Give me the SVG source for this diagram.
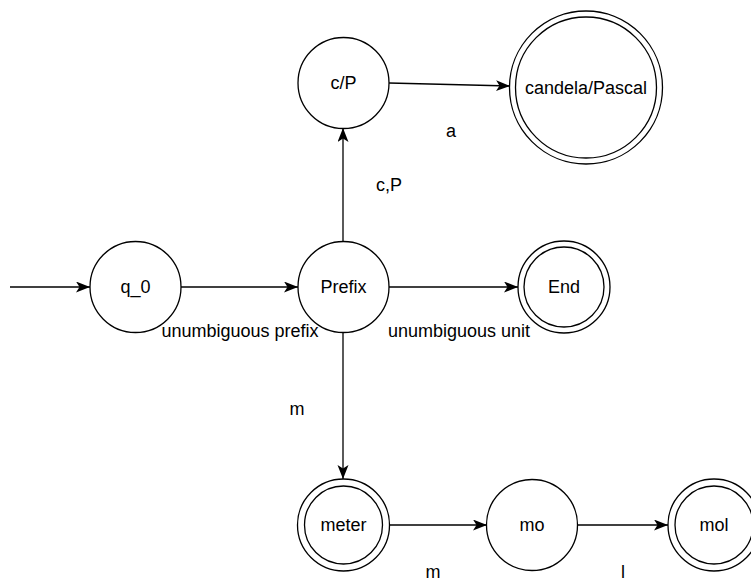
<svg xmlns="http://www.w3.org/2000/svg" width="751" height="581" viewBox="0 0 751 581">
  <defs>
    <marker id="arrow" markerUnits="userSpaceOnUse" markerWidth="16" markerHeight="12" refX="14" refY="5.5" orient="auto">
      <path d="M0,0 L14,5.5 L0,11 L3.5,5.5 Z" fill="#000"/>
    </marker>
  </defs>
  <style>
    .state { fill: #fff; stroke: #000; stroke-width: 1.3; }
    .edge { fill: none; stroke: #000; stroke-width: 1.3; marker-end: url(#arrow); }
    text { font-family: "Liberation Sans", Arial, Helvetica, sans-serif; font-size: 18px; fill: #000; }
    .c { text-anchor: middle; }
  </style>
  <rect width="751" height="581" fill="#fff"/>

  <!-- transitions -->
  <g id="connectors">
    <line class="edge" x1="10" y1="287" x2="90" y2="287"/>
    <line class="edge" x1="181" y1="287" x2="298" y2="287"/>
    <line class="edge" x1="389" y1="287" x2="518" y2="287"/>
    <line class="edge" x1="343" y1="241" x2="343" y2="128"/>
    <line class="edge" x1="389" y1="83" x2="510" y2="86"/>
    <line class="edge" x1="343" y1="333" x2="343" y2="479"/>
    <line class="edge" x1="389" y1="525" x2="487" y2="525"/>
    <line class="edge" x1="577" y1="525" x2="668" y2="525"/>
    <text class="c" x="451" y="137">a</text>
    <text class="c" x="389" y="191">c,P</text>
    <text class="c" x="240" y="337">unumbiguous prefix</text>
    <text class="c" x="459" y="337">unumbiguous unit</text>
    <text class="c" x="297" y="415">m</text>
    <text class="c" x="433" y="578">m</text>
    <text class="c" x="623" y="578">l</text>
  </g>

  <g id="q_0">
    <circle class="state" cx="135.5" cy="287" r="45.5"/>
    <text class="c" x="135.5" y="293">q_0</text>
  </g>
  <g id="prefix">
    <circle class="state" cx="343.5" cy="287" r="45.5"/>
    <text class="c" x="343.5" y="293">Prefix</text>
  </g>
  <g id="cP">
    <circle class="state" cx="343.5" cy="83" r="45.5"/>
    <text class="c" x="343.5" y="89">c/P</text>
  </g>
  <g id="candela_pascal">
    <circle class="state" cx="586" cy="87.5" r="76.5"/>
    <circle class="state" cx="586" cy="87.5" r="70.5"/>
    <text class="c" x="586" y="94">candela/Pascal</text>
  </g>
  <g id="end">
    <circle class="state" cx="564" cy="287" r="46"/>
    <circle class="state" cx="564" cy="287" r="40"/>
    <text class="c" x="564" y="293">End</text>
  </g>
  <g id="meter">
    <circle class="state" cx="343.5" cy="525" r="46"/>
    <circle class="state" cx="343.5" cy="525" r="39"/>
    <text class="c" x="343.5" y="531">meter</text>
  </g>
  <g id="mo">
    <circle class="state" cx="532" cy="525" r="45.5"/>
    <text class="c" x="532" y="531">mo</text>
  </g>
  <g id="mol">
    <circle class="state" cx="714" cy="525" r="46"/>
    <circle class="state" cx="714" cy="525" r="39"/>
    <text class="c" x="714" y="531">mol</text>
  </g>
</svg>
